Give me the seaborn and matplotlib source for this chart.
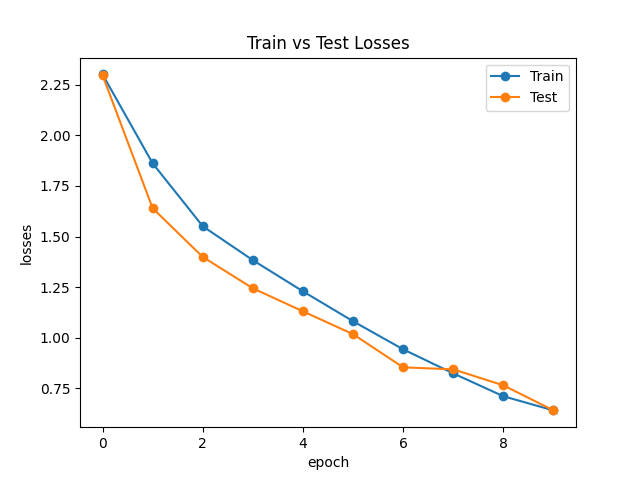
import numpy as np
import pandas as pd
import matplotlib
matplotlib.use('Agg')
import matplotlib.pyplot as plt
import seaborn as sns

# 数据
epochs = list(range(10))
train_losses = [2.302, 1.862, 1.551, 1.383, 1.229, 1.081, 0.942, 0.823, 0.710, 0.640]
test_losses = [2.298, 1.640, 1.399, 1.244, 1.130, 1.017, 0.853, 0.843, 0.764, 0.640]

fig, ax = plt.subplots(figsize=(6.4, 4.8), dpi=100)

sns.lineplot(x=epochs, y=train_losses, marker='o', markeredgewidth=0,
             markersize=7, color='#1f77b4', label='Train', ax=ax)
sns.lineplot(x=epochs, y=test_losses, marker='o', markeredgewidth=0,
             markersize=7, color='#ff7f0e', label='Test', ax=ax)

ax.set_title('Train vs Test Losses')
ax.set_xlabel('epoch')
ax.set_ylabel('losses')
ax.legend(loc='upper right')

fig.savefig('out.png', dpi=100)
